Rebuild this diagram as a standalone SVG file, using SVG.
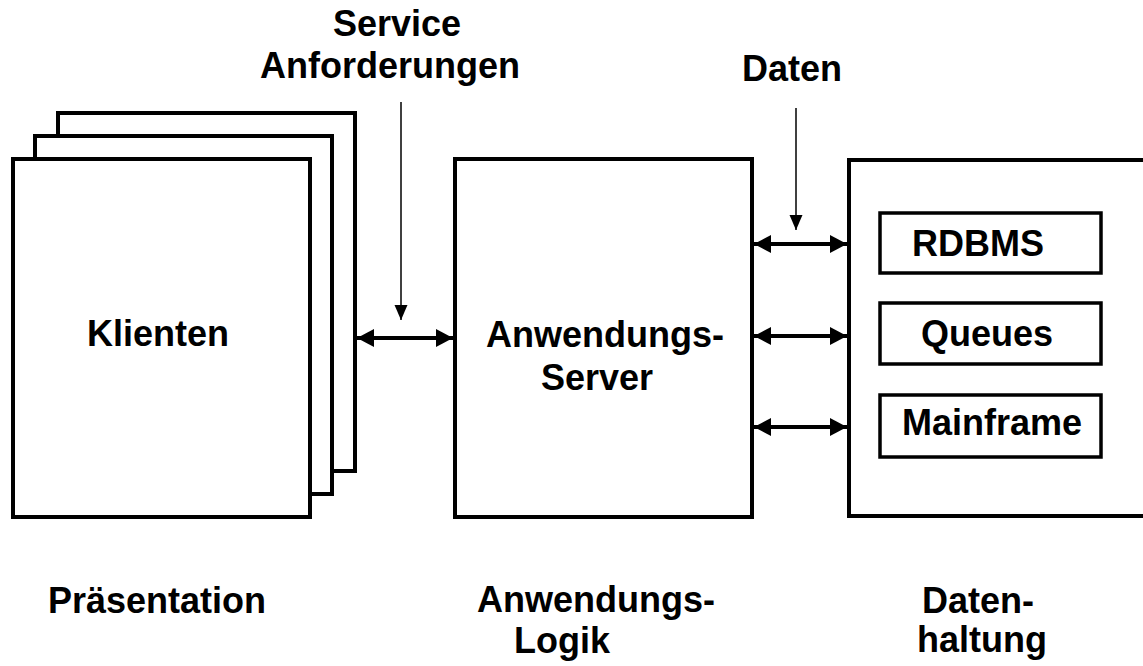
<svg xmlns="http://www.w3.org/2000/svg" width="1143" height="666" viewBox="0 0 1143 666">
  <style>
    .box { fill: #fff; stroke: #000; stroke-width: 4; }
    .inner { fill: #fff; stroke: #000; stroke-width: 3.5; }
    .lbl { font-family: "Liberation Sans", Arial, sans-serif; font-weight: bold; font-size: 36px; fill: #000; text-anchor: middle; }
    .link { stroke: #000; stroke-width: 4; fill: none; marker-start: url(#headStart); marker-end: url(#headEnd); }
    .pointer { stroke: #000; stroke-width: 1.5; fill: none; marker-end: url(#thinHead); }
  </style>
  <defs>
    <marker id="headEnd" markerUnits="userSpaceOnUse" markerWidth="20" markerHeight="20" refX="17" refY="9" orient="auto">
      <path d="M0,0 L17,9 L0,18 Z" fill="#000"/>
    </marker>
    <marker id="headStart" markerUnits="userSpaceOnUse" markerWidth="20" markerHeight="20" refX="0" refY="9" orient="auto">
      <path d="M17,0 L0,9 L17,18 Z" fill="#000"/>
    </marker>
    <marker id="thinHead" markerUnits="userSpaceOnUse" markerWidth="16" markerHeight="16" refX="15" refY="6.5" orient="auto">
      <path d="M0,0 L15,6.5 L0,13 Z" fill="#000"/>
    </marker>
  </defs>
  <rect width="1143" height="666" fill="#fff"/>

  <!-- Presentation tier: stacked client sheets -->
  <g id="klienten">
    <rect class="box" x="58" y="113" width="297" height="358"/>
    <rect class="box" x="35" y="136" width="297" height="358"/>
    <rect class="box" x="13" y="159" width="297" height="358"/>
    <text class="lbl" x="158" y="346">Klienten</text>
  </g>

  <!-- Application tier -->
  <g id="server">
    <rect class="box" x="455" y="159" width="297" height="358"/>
    <text class="lbl" x="605" y="347">Anwendungs-</text>
    <text class="lbl" x="597" y="390">Server</text>
  </g>

  <!-- Data tier -->
  <g id="datenhaltung">
    <rect class="box" x="849" y="160" width="320" height="356"/>
  </g>
  <g id="rdbms">
    <rect class="inner" x="880" y="213" width="221" height="60"/>
    <text class="lbl" x="978" y="256">RDBMS</text>
  </g>
  <g id="queues">
    <rect class="inner" x="880" y="303" width="221" height="61"/>
    <text class="lbl" x="987" y="346">Queues</text>
  </g>
  <g id="mainframe">
    <rect class="inner" x="880" y="395" width="221" height="62"/>
    <text class="lbl" x="992" y="435">Mainframe</text>
  </g>

  <!-- Connectors -->
  <g id="connectors">
    <line class="link" x1="357" y1="338" x2="453" y2="338"/>
    <line class="link" x1="754" y1="244" x2="847" y2="244"/>
    <line class="link" x1="754" y1="336" x2="847" y2="336"/>
    <line class="link" x1="754" y1="427" x2="847" y2="427"/>
    <line class="pointer" x1="401" y1="102" x2="401" y2="320"/>
    <line class="pointer" x1="796" y1="108" x2="796" y2="230"/>
  </g>

  <!-- Annotations -->
  <g id="labels">
    <text class="lbl" x="397" y="36">Service</text>
    <text class="lbl" x="390" y="78">Anforderungen</text>
    <text class="lbl" x="792" y="81">Daten</text>
    <text class="lbl" x="157" y="613">Präsentation</text>
    <text class="lbl" x="596" y="612">Anwendungs-</text>
    <text class="lbl" x="562" y="653">Logik</text>
    <text class="lbl" x="978" y="613">Daten-</text>
    <text class="lbl" x="982" y="652">haltung</text>
  </g>
</svg>
